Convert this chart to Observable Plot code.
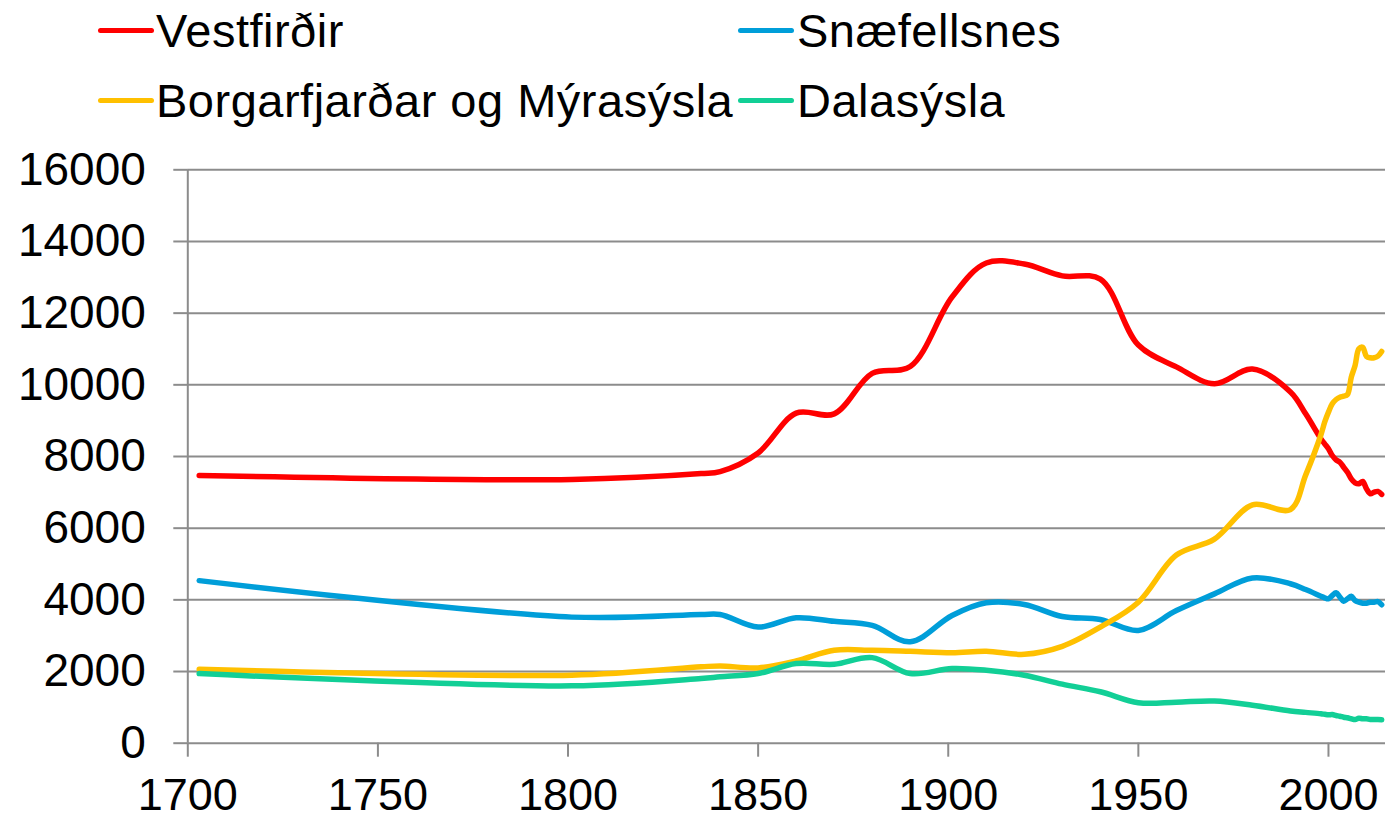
<!DOCTYPE html>
<html>
<head>
<meta charset="utf-8">
<script src="https://cdn.jsdelivr.net/npm/d3@7"></script>
<script src="https://cdn.jsdelivr.net/npm/@observablehq/plot@0.6"></script>
<style>
  html, body { margin: 0; padding: 0; background: #fff; }
  #wrap { width: 1387px; height: 820px; position: relative; overflow: hidden; font-family: "Liberation Sans", Arial, sans-serif; }
  #legend { position: relative; width: 1387px; height: 135px; }
  .sw { position: absolute; height: 5px; border-radius: 3px; }
  .lt { position: absolute; font-size: 47px; line-height: 47px; letter-spacing: 0.5px; color: #000; white-space: nowrap; }
  #chart svg { display: block; }
</style>
</head>
<body>
<div id="wrap">
  <div id="legend"></div>
  <div id="chart"></div>
</div>
<script>
const seriesNames = ["Vestfirðir", "Snæfellsnes", "Borgarfjarðar og Mýrasýsla", "Dalasýsla"];
const seriesColors = ["#FF0000", "#009ED9", "#FFC000", "#12CF96"];

const years = [1703, 1801, 1835, 1840, 1850, 1860, 1870, 1880, 1890, 1901, 1910, 1920, 1930, 1940, 1950, 1960, 1970, 1980, 1990, 1994,
  1998, 1999, 2000, 2001, 2002, 2003, 2004, 2005, 2006, 2007, 2008, 2009, 2010, 2011, 2012, 2013, 2014];

const vestfirdir = [7470, 7360, 7525, 7580, 8100, 9210, 9190, 10320, 10510, 12450, 13400, 13370, 13040, 12950, 11110, 10500, 10030, 10440, 9800, 9190,
  8495, 8354, 8216, 8028, 7908, 7841, 7701, 7563, 7377, 7266, 7238, 7302, 7098, 6960, 7004, 7025, 6942];

const snaefellsnes = [4536, 3518, 3590, 3592, 3240, 3500, 3400, 3290, 2830, 3564, 3917, 3870, 3536, 3453, 3147, 3700, 4166, 4611, 4450, 4288,
  4102, 4057, 4029, 4121, 4197, 4074, 3962, 4029, 4102, 3982, 3935, 3906, 3906, 3935, 3935, 3950, 3862];

const borgarfjordur = [2064, 1897, 2130, 2157, 2101, 2295, 2592, 2592, 2564, 2527, 2564, 2481, 2703, 3240, 3935, 5250, 5694, 6650, 6520, 7480,
  8600, 8957, 9237, 9470, 9590, 9655, 9683, 9730, 10213, 10539, 11005, 11050, 10790, 10754, 10754, 10800, 10930];

const dalasysla = [1944, 1600, 1805, 1852, 1944, 2222, 2203, 2388, 1944, 2083, 2036, 1897, 1647, 1435, 1130, 1145, 1175, 1060, 900, 860,
  820, 806, 792, 800, 772, 753, 725, 709, 681, 660, 697, 681, 681, 660, 660, 660, 652];

const xTicks = [1700, 1750, 1800, 1850, 1900, 1950, 2000];
const yTicks = [0, 2000, 4000, 6000, 8000, 10000, 12000, 14000, 16000];
const xDomain = [1700, 2015];

const allValues = [vestfirdir, snaefellsnes, borgarfjordur, dalasysla];
const rows = allValues.flatMap((vals, i) => years.map((yr, j) => ({year: yr, value: vals[j], series: seriesNames[i]})));

// Legend (HTML, above the SVG)
const legend = document.getElementById("legend");
const legendPos = [[98, 156, 7], [738, 797, 7], [98, 156, 77], [738, 797, 77]];
seriesNames.forEach((name, i) => {
  const [sx, tx, top] = legendPos[i];
  const sw = document.createElement("div");
  sw.className = "sw";
  sw.style.left = sx + "px";
  sw.style.width = "56px";
  sw.style.top = (top + 21) + "px";
  sw.style.background = seriesColors[i];
  legend.appendChild(sw);
  const t = document.createElement("div");
  t.className = "lt";
  t.style.left = tx + "px";
  t.style.top = top + "px";
  t.textContent = name;
  legend.appendChild(t);
});

const gray = "#8c8c8c";
const chart = Plot.plot({
  width: 1387,
  height: 685,
  marginTop: 34.3,
  marginBottom: 77.3,
  marginLeft: 187.3,
  marginRight: 2,
  x: {domain: xDomain},
  y: {domain: [yTicks[0], yTicks[yTicks.length - 1]]},
  color: {domain: seriesNames, range: seriesColors},
  style: {fontFamily: "'Liberation Sans', Arial, sans-serif", fontSize: "46px", color: "#000", background: "#fff", overflow: "visible"},
  marks: [
    Plot.gridY({ticks: yTicks, stroke: gray, strokeOpacity: 1, strokeWidth: 2}),
    Plot.ruleX([xDomain[0]], {y1: yTicks[0], y2: yTicks[yTicks.length - 1], stroke: gray, strokeWidth: 2}),
    Plot.axisY({ticks: yTicks, tickSize: 14, tickPadding: 28, stroke: gray, strokeWidth: 2, fill: "#000", fontSize: 46, tickFormat: d => String(d), label: null}),
    Plot.axisX({ticks: xTicks, tickSize: 14, tickPadding: 21, stroke: gray, strokeWidth: 2, fill: "#000", fontSize: 45, tickFormat: d => String(d), label: null}),
    Plot.line(rows, {x: "year", y: "value", z: "series", stroke: "series", curve: "catmull-rom", strokeWidth: 5.5, strokeLinecap: "round", strokeLinejoin: "round"})
  ]
});
document.getElementById("chart").appendChild(chart);
</script>
</body>
</html>
